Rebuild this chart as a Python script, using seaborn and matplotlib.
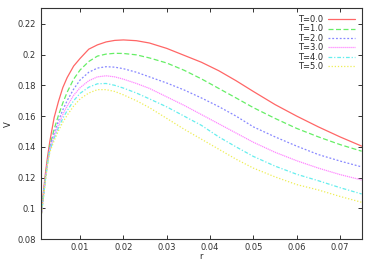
import numpy as np
import pandas as pd
import matplotlib
matplotlib.use("Agg")
import matplotlib.pyplot as plt
import seaborn as sns

r = [0.001, 0.0015, 0.002, 0.0025, 0.003, 0.004, 0.005, 0.006, 0.007, 0.0085, 0.01,
     0.012, 0.014, 0.016, 0.018, 0.02, 0.023, 0.026, 0.03, 0.034, 0.038,
     0.042, 0.046, 0.05, 0.055, 0.06, 0.065, 0.07, 0.075]

v_t0 = [0.095, 0.110, 0.123, 0.134, 0.1435, 0.159, 0.1695, 0.1785, 0.185, 0.1925, 0.1975,
        0.2035, 0.2063, 0.2082, 0.2092, 0.2095, 0.2090, 0.2075, 0.2040, 0.1995, 0.1950,
        0.1895, 0.1830, 0.1760, 0.1675, 0.1600, 0.1530, 0.1465, 0.1405]
v_t1 = [0.095, 0.108, 0.1205, 0.131, 0.1405, 0.1515, 0.1605, 0.1685, 0.1755, 0.184, 0.190,
        0.1955, 0.1990, 0.2003, 0.2008, 0.2007, 0.1998, 0.1978, 0.1945, 0.1898, 0.1842,
        0.1780, 0.1718, 0.1655, 0.1585, 0.1520, 0.1465, 0.1415, 0.1372]
v_t2 = [0.095, 0.1075, 0.120, 0.1305, 0.1395, 0.149, 0.157, 0.164, 0.170, 0.1775, 0.1835,
        0.1885, 0.1912, 0.1921, 0.1918, 0.1908, 0.1885, 0.1855, 0.1815, 0.1770, 0.1718,
        0.1662, 0.1600, 0.1530, 0.1465, 0.1405, 0.1350, 0.1308, 0.1270]
v_t3 = [0.095, 0.107, 0.1195, 0.130, 0.1385, 0.147, 0.1545, 0.161, 0.1665, 0.1735, 0.1785,
        0.1830, 0.1855, 0.1862, 0.1855, 0.1840, 0.1812, 0.1780, 0.1725, 0.1670, 0.1610,
        0.1550, 0.1490, 0.1430, 0.1365, 0.1310, 0.1262, 0.1220, 0.1185]
v_t4 = [0.095, 0.1065, 0.119, 0.1295, 0.1375, 0.1455, 0.1525, 0.1585, 0.1635, 0.170, 0.1748,
        0.1788, 0.1810, 0.1812, 0.1800, 0.1782, 0.1750, 0.1712, 0.1660, 0.1600, 0.1540,
        0.1465, 0.1400, 0.1338, 0.1275, 0.1222, 0.1180, 0.1135, 0.1094]
v_t5 = [0.095, 0.106, 0.1185, 0.129, 0.1365, 0.144, 0.1505, 0.156, 0.1605, 0.1665, 0.1712,
        0.1750, 0.1772, 0.1772, 0.1760, 0.1738, 0.1700, 0.1655, 0.1585, 0.1515, 0.1450,
        0.1385, 0.1320, 0.1262, 0.1205, 0.1155, 0.1120, 0.1078, 0.1040]

labels = ["T=0.0", "T=1.0", "T=2.0", "T=3.0", "T=4.0", "T=5.0"]
series = [v_t0, v_t1, v_t2, v_t3, v_t4, v_t5]
colors = ["#ff6666", "#66ee66", "#8888ff", "#ff88ff", "#66eeee", "#eeee55"]
styles = ["-", (0, (4, 2)), (0, (1.5, 1.5)), (0, (1, 0.6)), (0, (3, 1.5, 1, 1.5)), (0, (1, 1.5))]

sns.set_style("ticks")
plt.rcParams["font.family"] = ["DejaVu Sans"]

fig = plt.figure(figsize=(3.74, 2.62), dpi=100)
ax = fig.add_axes([0.110, 0.087, 0.857, 0.881])

for lab, vals, col, ls in zip(labels, series, colors, styles):
    df = pd.DataFrame({"r": r, "V": vals})
    sns.lineplot(data=df, x="r", y="V", ax=ax, color=col, linestyle=ls,
                 linewidth=0.9, label=lab)

ax.set_xlim(0.001, 0.075)
ax.set_ylim(0.08, 0.23)
ax.set_xticks([0.01, 0.02, 0.03, 0.04, 0.05, 0.06, 0.07])
ax.set_xticklabels(["0.01", "0.02", "0.03", "0.04", "0.05", "0.06", "0.07"])
ax.set_yticks([0.08, 0.1, 0.12, 0.14, 0.16, 0.18, 0.2, 0.22])
ax.set_yticklabels(["0.08", "0.1", "0.12", "0.14", "0.16", "0.18", "0.2", "0.22"])
ax.tick_params(direction="in", top=True, right=True, length=3, width=0.7,
               labelsize=6, colors="#333333")
ax.tick_params(axis="x", pad=2.5)
ax.tick_params(axis="y", pad=4)
for s in ax.spines.values():
    s.set_color("#333333")
    s.set_linewidth(0.8)
ax.set_xlabel("r", fontsize=6, labelpad=0.5)
ax.set_ylabel("V", fontsize=6, labelpad=3)

ax.legend(loc="upper right", frameon=False, fontsize=6, markerfirst=False,
          handlelength=3.2, labelspacing=0.05, handletextpad=0.6,
          borderaxespad=0.4)

fig.savefig("out.png", dpi=100)
